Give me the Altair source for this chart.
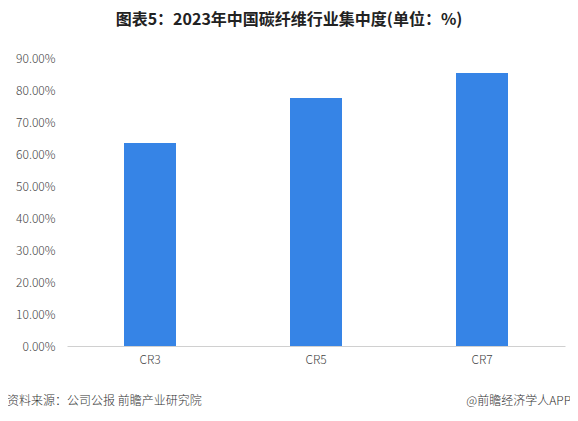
import altair as alt
import pandas as pd

categories = ["CR3", "CR5", "CR7"]
values = [0.634, 0.775, 0.853]
source_text = "资料来源：公司公报 前瞻产业研究院"
brand_text = "@前瞻经济学人APP"
title_text = "图表5：2023年中国碳纤维行业集中度(单位：%)"

df = pd.DataFrame({"cat": categories, "val": values})
one = pd.DataFrame({"src": [source_text], "brand": [brand_text]})

FONT = "Noto Sans CJK SC"

bars = alt.Chart(df).mark_bar(size=52, color="#3684e6").encode(
    x=alt.X("cat:N", sort=categories,
            scale=alt.Scale(paddingInner=0, paddingOuter=0),
            axis=alt.Axis(title=None, labelAngle=0, labelFontSize=12, labelColor="#444444",
                          labelFont=FONT, labelFontWeight=300, domain=True,
                          domainColor="#d0d0d0", ticks=False, grid=False, labelPadding=8)),
    y=alt.Y("val:Q", scale=alt.Scale(domain=[0, 0.9], nice=False),
            axis=alt.Axis(title=None, format=".2%", values=[i / 10 for i in range(10)],
                          grid=False, domain=False, domainWidth=0, domainOpacity=0,
                          ticks=False, tickWidth=0, labelFontSize=12,
                          labelColor="#444444", labelFont=FONT, labelFontWeight=300,
                          labelPadding=12)),
)

src = alt.Chart(one).mark_text(
    font=FONT, fontSize=12, fontWeight=300,
    color="#333333", align="left", baseline="middle"
).encode(text="src:N", x=alt.value(-60), y=alt.value(343))

app = alt.Chart(one).mark_text(
    font=FONT, fontSize=12, fontWeight=300,
    color="#333333", align="right", baseline="middle"
).encode(text="brand:N", x=alt.value(504), y=alt.value(343))

chart = alt.layer(bars, src, app).properties(
    width=498, height=288,
    title=alt.TitleParams(
        text=title_text, font=FONT, fontSize=16,
        fontWeight="bold", color="#222222", anchor="middle", dx=-27, offset=24),
    autosize=alt.AutoSizeParams(type="none"),
    padding={"left": 59, "top": 50, "right": 5, "bottom": 75},
).configure(background="white").configure_view(
    stroke="transparent", strokeWidth=0, strokeOpacity=0
).configure_axis(domain=False, grid=False, ticks=False)

chart.save("out.html", embed_options={"renderer": "svg", "actions": False})
